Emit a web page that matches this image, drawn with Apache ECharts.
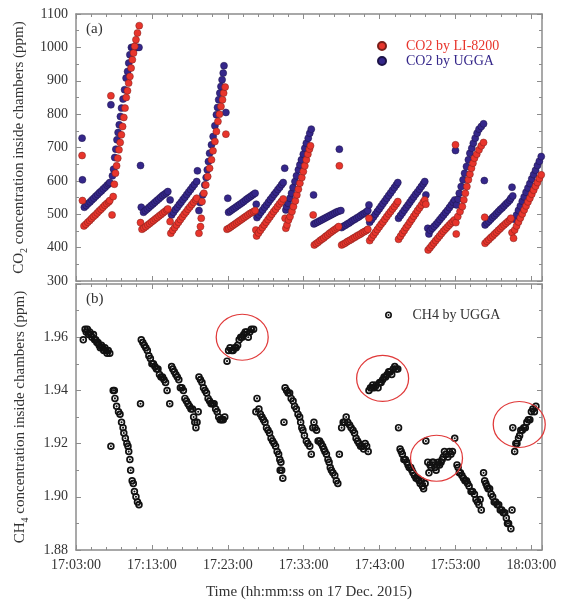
<!DOCTYPE html>
<html><head><meta charset="utf-8">
<script src="https://cdn.jsdelivr.net/npm/echarts@6/dist/echarts.min.js"></script>
<style>html,body{margin:0;padding:0;background:#fff}#c{width:564px;height:601px}</style>
</head><body><div id="c"></div>
<script>
// time in minutes after 17:03:00
const xTickLabels = ['17:03:00','17:13:00','17:23:00','17:33:00','17:43:00','17:53:00','18:03:00'];

const co2Licor = [
[0.8,676],[0.85,541],
[1.05,465],[1.3,470],[1.55,476],[1.8,481],[2.05,487],[2.3,493],[2.55,498],[2.8,504],[3.05,510],[3.3,515],[3.55,521],[3.8,527],[4.05,532],[4.3,537],[4.45,541],
[4.6,855],[4.75,498],
[4.9,553],[5.05,590],[5.2,623],[5.35,645],[5.5,668],[5.66,693],[5.82,715],[5.98,738],[6.14,763],[6.3,790],[6.46,818],[6.62,850],[6.78,870],[6.94,893],[7.1,913],[7.26,938],[7.42,963],[7.58,983],[7.74,1003],[7.9,1023],[8.1,1043],[8.33,1065],
[8.5,475],
[8.7,455],[8.95,459],[9.2,463],[9.45,468],[9.7,472],[9.95,477],[10.2,481],[10.45,486],[10.7,490],[10.95,495],[11.2,499],[11.45,504],[11.7,508],[11.95,513],[12.1,516],
[12.4,478],
[12.5,443],[12.75,452],[13.0,460],[13.25,468],[13.5,476],[13.75,484],[14.0,492],[14.25,500],[14.5,507],[14.75,515],[15.0,522],[15.25,529],[15.5,536],[15.75,543],[15.9,548],
[16.2,443],[16.4,463],[16.5,488],
[16.6,538],[16.85,563],[17.1,588],[17.35,613],[17.6,638],[17.85,663],[18.05,690],[18.3,718],[18.5,748],[18.7,778],[18.9,800],[19.1,823],[19.3,843],[19.45,863],[19.65,881],
[19.75,740],
[19.9,455],[20.15,458],[20.4,462],[20.65,466],[20.9,470],[21.15,474],[21.4,478],[21.65,482],[21.9,486],[22.15,490],[22.4,494],[22.65,498],[22.9,502],[23.15,505],[23.4,508],[23.6,511],
[23.7,453],
[23.8,435],[24.05,444],[24.3,452],[24.55,460],[24.8,468],[25.05,476],[25.3,484],[25.55,492],[25.8,500],[26.05,508],[26.3,515],[26.55,523],[26.8,531],[27.05,538],[27.3,546],
[27.55,488],[27.65,458],
[27.8,468],[28.0,483],[28.2,493],[28.45,508],[28.65,523],[28.9,540],[29.1,558],[29.3,575],[29.5,593],[29.75,610],[29.95,628],[30.15,645],[30.35,663],[30.55,680],[30.75,695],[30.9,705],
[31.25,498],
[31.4,408],[31.65,412],[31.9,416],[32.15,421],[32.4,425],[32.65,429],[32.9,434],[33.15,438],[33.4,443],[33.65,447],[33.9,451],[34.15,455],[34.4,459],[34.6,463],
[34.7,645],
[35.0,408],[35.25,411],[35.5,414],[35.75,418],[36.0,421],[36.25,424],[36.5,428],[36.75,431],[37.0,435],[37.25,438],[37.5,441],[37.75,445],[38.0,448],[38.25,451],[38.45,455],
[38.6,488],
[38.7,421],[38.95,430],[39.2,438],[39.45,446],[39.7,454],[39.95,462],[40.2,470],[40.45,477],[40.7,485],[40.95,493],[41.2,501],[41.45,508],[41.7,516],[41.95,523],[42.2,531],[42.4,538],
[42.5,425],[42.75,434],[43.0,443],[43.25,451],[43.5,460],[43.75,468],[44.0,477],[44.25,485],[44.5,494],[44.75,502],[45.0,511],[45.25,519],[45.5,527],[45.75,536],[45.95,543],
[46.1,530],
[46.4,393],[46.65,400],[46.9,407],[47.15,414],[47.4,421],[47.65,428],[47.9,435],[48.15,442],[48.4,449],[48.65,455],[48.9,461],[49.15,467],[49.4,473],[49.65,478],[49.85,483],
[50.0,708],[50.05,475],[50.1,441],
[50.3,493],[50.6,508],[50.9,523],[51.1,543],[51.3,563],[51.5,583],[51.7,603],[51.9,620],[52.1,638],[52.3,653],[52.5,668],[52.8,680],[53.1,693],[53.4,705],[53.7,715],
[53.85,491],
[53.9,413],[54.15,419],[54.4,424],[54.65,430],[54.9,435],[55.15,441],[55.4,446],[55.65,452],[55.9,457],[56.15,463],[56.4,468],[56.65,473],[56.9,478],[57.15,483],[57.3,488],
[57.45,445],[57.65,428],
[57.8,453],[58.05,465],[58.3,477],[58.55,489],[58.8,501],[59.05,513],[59.3,525],[59.55,537],[59.8,548],[60.05,560],[60.3,572],[60.55,584],[60.8,595],[61.05,607],[61.3,618]
];

const co2Ugga = [
[0.8,728],[0.85,603],
[1.1,521],[1.35,526],[1.6,532],[1.85,537],[2.1,543],[2.35,548],[2.6,554],[2.85,559],[3.1,565],[3.35,570],[3.6,576],[3.85,581],[4.1,587],[4.3,591],[4.45,595],
[4.6,828],
[4.8,615],[4.95,635],[5.1,670],[5.25,695],[5.4,723],[5.55,745],[5.7,768],[5.85,793],[6.0,818],[6.2,845],[6.4,873],[6.6,908],[6.8,928],[6.95,953],[7.1,978],[7.3,1000],[7.5,1000],[7.7,1000],[7.9,1000],[8.1,1000],[8.3,1000],
[8.5,646],[8.6,521],
[8.9,506],[9.15,511],[9.4,516],[9.65,521],[9.9,526],[10.15,531],[10.4,536],[10.65,541],[10.9,546],[11.15,551],[11.4,556],[11.65,560],[11.9,564],[12.1,568],
[12.4,543],
[12.6,498],[12.85,506],[13.1,514],[13.35,521],[13.6,529],[13.85,536],[14.1,544],[14.35,551],[14.6,559],[14.85,567],[15.1,574],[15.35,582],[15.6,589],[15.9,598],
[16.0,630],[16.2,511],[16.35,535],
[16.7,558],[16.97,588],[17.15,610],[17.3,633],[17.45,658],[17.6,683],[17.85,708],[18.07,733],[18.3,765],[18.5,798],[18.65,820],[18.8,843],[18.95,863],[19.1,883],[19.25,903],[19.4,923],[19.5,945],
[19.75,805],[20.0,548],
[20.1,506],[20.35,510],[20.6,514],[20.85,518],[21.1,522],[21.35,526],[21.6,530],[21.85,534],[22.1,538],[22.35,543],[22.6,547],[22.85,551],[23.1,555],[23.35,559],[23.6,563],
[23.75,530],
[23.85,490],[24.1,498],[24.35,506],[24.6,513],[24.85,521],[25.1,528],[25.35,536],[25.6,544],[25.85,551],[26.1,559],[26.35,566],[26.6,574],[26.85,581],[27.1,589],[27.3,595],
[27.5,638],[27.65,513],
[27.75,523],[27.95,533],[28.2,548],[28.4,563],[28.6,580],[28.85,598],[29.05,615],[29.3,633],[29.5,648],[29.7,663],[29.95,680],[30.15,698],[30.35,713],[30.6,728],[30.8,743],[31.0,755],
[31.3,558],
[31.35,471],[31.6,474],[31.85,477],[32.1,480],[32.35,483],[32.6,486],[32.85,489],[33.1,492],[33.35,495],[33.6,498],[33.85,501],[34.1,504],[34.35,507],[34.6,509],[34.9,511],
[34.7,695],
[35.0,460],[35.25,464],[35.5,467],[35.75,471],[36.0,474],[36.25,478],[36.5,482],[36.75,485],[37.0,489],[37.25,492],[37.5,496],[37.75,500],[38.0,503],[38.25,507],[38.45,511],
[38.6,528],
[38.7,476],[38.95,484],[39.2,492],[39.45,500],[39.7,508],[39.95,516],[40.2,524],[40.45,532],[40.7,540],[40.95,548],[41.2,556],[41.45,564],[41.7,572],[41.95,580],[42.2,588],[42.4,595],
[42.5,488],[42.75,496],[43.0,504],[43.25,512],[43.5,520],[43.75,528],[44.0,536],[44.25,544],[44.5,552],[44.75,560],[45.0,567],[45.25,575],[45.5,583],[45.75,591],[45.95,598],
[46.1,558],
[46.35,458],[46.5,441],[46.7,452],[46.95,458],[47.2,464],[47.45,470],[47.7,477],[47.95,484],[48.2,491],[48.45,498],[48.7,505],[48.95,512],[49.2,520],[49.45,528],[49.7,536],[49.9,543],
[50.0,691],
[50.15,528],[50.35,545],[50.5,563],[50.75,583],[51.0,603],[51.2,623],[51.45,643],[51.7,663],[51.9,683],[52.15,698],[52.35,713],[52.6,728],[52.85,743],[53.1,755],[53.4,763],[53.7,771],
[53.8,601],
[53.9,468],[54.15,474],[54.4,479],[54.65,485],[54.9,491],[55.15,496],[55.4,502],[55.65,508],[55.9,514],[56.15,519],[56.4,525],[56.65,531],[56.9,536],[57.15,542],[57.3,548],
[57.45,581],[57.55,555],
[57.8,485],[58.05,498],[58.3,512],[58.55,525],[58.8,539],[59.05,552],[59.3,566],[59.55,579],[59.8,592],[60.05,606],[60.3,619],[60.55,632],[60.8,646],[61.05,659],[61.3,673]
];

const ch4Ugga = [
[0.96,1.959],[1.2,1.963],[1.35,1.962],[1.5,1.963],[1.65,1.961],[1.8,1.962],[1.95,1.961],[2.1,1.960],[2.3,1.961],[2.45,1.959],[2.6,1.959],[2.75,1.958],[2.9,1.958],[3.05,1.957],[3.2,1.956],[3.35,1.957],[3.5,1.956],[3.65,1.955],[3.8,1.956],[3.95,1.955],[4.1,1.954],[4.25,1.955],[4.45,1.954],
[4.6,1.919],
[4.9,1.940],[5.05,1.940],[5.13,1.937],[5.35,1.934],[5.6,1.932],[5.8,1.931],[6.0,1.928],[6.2,1.926],[6.3,1.924],[6.5,1.922],[6.7,1.920],[6.85,1.919],[6.95,1.917],[7.1,1.914],[7.2,1.910],[7.4,1.906],[7.55,1.905],[7.7,1.902],[7.9,1.900],[8.1,1.898],[8.3,1.897],
[8.5,1.935],
[8.6,1.959],[8.8,1.958],[9.0,1.957],[9.2,1.956],[9.4,1.955],[9.6,1.953],[9.8,1.952],[10.0,1.950],[10.2,1.950],[10.4,1.949],[10.6,1.948],[10.8,1.948],[11.0,1.946],[11.2,1.945],[11.4,1.945],[11.6,1.944],[11.8,1.943],[12.0,1.940],
[12.35,1.935],
[12.6,1.949],[12.75,1.948],[12.95,1.947],[13.15,1.946],[13.35,1.945],[13.55,1.944],[13.75,1.941],[13.95,1.941],[14.15,1.940],[14.35,1.937],[14.55,1.936],[14.75,1.935],[14.95,1.934],[15.15,1.933],[15.35,1.933],[15.5,1.930],[15.65,1.928],[15.8,1.926],[15.95,1.928],[16.1,1.932],
[16.2,1.945],[16.4,1.944],[16.6,1.943],[16.8,1.941],[17.0,1.940],[17.2,1.939],[17.4,1.937],[17.6,1.936],[17.8,1.935],[18.0,1.935],[18.2,1.935],[18.4,1.933],[18.6,1.932],[18.8,1.930],[19.0,1.929],[19.2,1.929],[19.4,1.929],[19.6,1.930],
[19.9,1.951],[20.1,1.955],[20.3,1.956],[20.5,1.955],[20.7,1.955],[20.9,1.956],[21.1,1.956],[21.3,1.957],[21.5,1.959],[21.7,1.960],[21.9,1.960],[22.1,1.961],[22.3,1.962],[22.5,1.962],[22.7,1.960],[22.9,1.962],[23.1,1.963],[23.4,1.963],
[23.7,1.932],[23.85,1.937],[24.1,1.933],[24.3,1.931],[24.5,1.930],[24.7,1.929],[24.9,1.928],[25.1,1.926],[25.3,1.925],[25.5,1.924],[25.7,1.922],[25.9,1.921],[26.1,1.920],[26.3,1.919],[26.5,1.917],[26.7,1.916],[26.85,1.914],[27.0,1.913],[26.9,1.910],[27.1,1.910],[27.25,1.907],
[27.4,1.928],
[27.55,1.941],[27.75,1.940],[27.95,1.939],[28.15,1.939],[28.35,1.937],[28.6,1.936],[28.8,1.934],[29.03,1.933],[29.25,1.931],[29.47,1.930],[29.6,1.928],[29.75,1.926],[29.9,1.925],[30.1,1.923],[30.35,1.921],[30.55,1.920],[30.8,1.919],[31.0,1.916],
[31.2,1.926],[31.35,1.928],[31.5,1.926],[31.7,1.925],[31.9,1.921],[32.1,1.921],[32.3,1.920],[32.5,1.919],[32.65,1.918],[32.8,1.917],[33.0,1.916],[33.2,1.914],[33.35,1.913],[33.5,1.911],[33.65,1.910],[33.85,1.909],[34.1,1.908],[34.3,1.906],[34.5,1.905],
[34.7,1.916],
[35.0,1.926],[35.2,1.928],[35.4,1.928],[35.6,1.930],[35.8,1.928],[36.05,1.927],[36.25,1.926],[36.5,1.925],[36.7,1.924],[36.9,1.922],[37.1,1.921],[37.3,1.920],[37.5,1.919],[37.7,1.919],[37.9,1.918],[38.1,1.920],[38.3,1.919],[38.5,1.917],
[38.6,1.940],[38.8,1.941],[39.0,1.941],[39.1,1.942],[39.3,1.941],[39.55,1.942],[39.8,1.941],[40.0,1.943],[40.2,1.943],[40.4,1.944],[40.6,1.945],[40.8,1.945],[41.0,1.946],[41.2,1.947],[41.4,1.947],[41.6,1.946],[41.8,1.948],[42.0,1.949],[42.2,1.948],[42.4,1.948],
[42.5,1.926],
[42.7,1.918],[42.85,1.917],[43.0,1.916],[43.2,1.914],[43.4,1.914],[43.6,1.913],[43.75,1.912],[43.9,1.911],[44.1,1.911],[44.25,1.910],[44.4,1.909],[44.6,1.908],[44.8,1.907],[45.0,1.907],[45.2,1.906],[45.35,1.905],[45.5,1.906],[45.65,1.904],[45.8,1.903],[46.0,1.905],
[46.1,1.921],[46.35,1.913],[46.5,1.909],[46.65,1.912],[46.8,1.911],[46.95,1.913],[47.1,1.913],[47.3,1.911],[47.45,1.910],[47.6,1.912],[47.75,1.913],[47.9,1.912],[48.1,1.913],[48.25,1.914],[48.4,1.915],[48.55,1.917],[48.75,1.916],[49.0,1.915],[49.2,1.917],[49.4,1.916],[49.6,1.917],[49.9,1.922],
[50.2,1.912],[50.35,1.911],[50.5,1.909],[50.65,1.909],[50.85,1.908],[51.05,1.907],[51.25,1.906],[51.45,1.906],[51.6,1.905],[51.8,1.904],[52.05,1.902],[52.25,1.902],[52.5,1.901],[52.7,1.899],[52.9,1.898],[53.1,1.897],[53.25,1.899],[53.4,1.895],
[53.7,1.909],[53.85,1.906],[54.0,1.905],[54.15,1.904],[54.3,1.903],[54.5,1.903],[54.7,1.901],[54.9,1.900],[55.1,1.898],[55.3,1.898],[55.5,1.897],[55.7,1.897],[55.9,1.895],[56.1,1.895],[56.3,1.894],[56.5,1.894],[56.7,1.892],[56.85,1.890],[57.0,1.890],[57.3,1.888],
[57.45,1.895],
[57.55,1.926],[57.8,1.917],[57.95,1.920],[58.1,1.920],[58.3,1.922],[58.45,1.923],[58.6,1.925],[58.8,1.925],[59.0,1.926],[59.2,1.926],[59.4,1.928],[59.6,1.929],[59.8,1.929],[60.0,1.932],[60.2,1.933],[60.4,1.932],[60.6,1.934]
];

// centres of the red highlight ellipses in panel (b)
const ch4Highlights = [[21.9,1.960],[40.4,1.9445],[47.5,1.9145],[58.4,1.9272]];

const FONT = 'Liberation Serif';
const AX = '#8c8c8c';
const TXT = '#333';
const ringPath = 'path://M0,-10A10,10,0,1,1,0,10A10,10,0,1,1,0,-10ZM0,-5.4A5.4,5.4,0,1,0,0,5.4A5.4,5.4,0,1,0,0,-5.4ZM0,-2.8A2.8,2.8,0,1,1,0,2.8A2.8,2.8,0,1,1,0,-2.8Z';

function xFmt(v){
  const i = Math.round(v/10);
  return (Math.abs(v - i*10) < 1e-6 && xTickLabels[i]) ? xTickLabels[i] : '';
}
function xAxisDef(grid, pos, labels){
  return {
    type:'value', gridIndex:grid, position:pos, min:0, max:61.4, interval:10,
    axisLine:{show:true, onZero:false, lineStyle:{color:AX, width:1.5}},
    axisTick:{show:true, inside:true, length:5, lineStyle:{color:AX}},
    minorTick:{show:true, splitNumber:5, length:3, lineStyle:{color:AX}},
    splitLine:{show:false},
    axisLabel:{show:labels, formatter:xFmt, showMaxLabel:false, fontFamily:FONT, fontSize:14, color:TXT, margin:8},
    name: labels ? 'Time (hh:mm:ss on 17 Dec. 2015)' : '',
    nameLocation:'middle', nameGap:35,
    nameTextStyle:{fontFamily:FONT, fontSize:15, color:TXT}
  };
}
function yAxisDef(grid, pos, labels, min, max, interval, fmt, showMax, name){
  return {
    type:'value', gridIndex:grid, position:pos, min:min, max:max, interval:interval,
    axisLine:{show:true, onZero:false, lineStyle:{color:AX, width:1.5}},
    axisTick:{show:true, inside:true, length:5, lineStyle:{color:AX}},
    minorTick:{show:true, splitNumber:2, length:3, lineStyle:{color:AX}},
    splitLine:{show:false},
    axisLabel:{show:labels, formatter:fmt, showMaxLabel:showMax, showMinLabel:true, fontFamily:FONT, fontSize:14, color:TXT, margin:8},
    name: labels ? name : '',
    nameLocation:'middle', nameGap:46, nameRotate:90,
    nameTextStyle:{
      rich:{
        t:{fontFamily:FONT, fontSize:15, color:TXT, lineHeight:20},
        s:{fontFamily:FONT, fontSize:10, color:TXT, lineHeight:10, verticalAlign:'bottom'}
      }
    }
  };
}

const chart = echarts.init(document.getElementById('c'), null, {renderer:'canvas'});
chart.setOption({
  animation:false,
  backgroundColor:'#fff',
  grid:[
    {left:76, top:14, width:466, height:267},
    {left:76, top:284, width:466, height:267}
  ],
  xAxis:[
    xAxisDef(0,'bottom',false), xAxisDef(0,'top',false),
    xAxisDef(1,'bottom',true), xAxisDef(1,'top',false)
  ],
  yAxis:[
    yAxisDef(0,'left',true,300,1100,100,v=>String(v),true,'{t|CO}{s|2}{t| concentration inside chambers (ppm)}'),
    yAxisDef(0,'right',false,300,1100,100,v=>String(v),true,''),
    yAxisDef(1,'left',true,1.88,1.98,0.02,v=>v.toFixed(2),false,'{t|CH}{s|4}{t| concentration inside chambers (ppm)}'),
    yAxisDef(1,'right',false,1.88,1.98,0.02,v=>v.toFixed(2),false,'')
  ],
  legend:[
    {orient:'vertical', left:372, top:34, itemWidth:38, itemHeight:8, itemGap:1, selectedMode:false,
     textStyle:{fontFamily:FONT, fontSize:14},
     data:[{name:'CO2 by LI-8200', textStyle:{color:'#e8352c'}},{name:'CO2 by UGGA', textStyle:{color:'#35278a'}}]},
    {orient:'vertical', left:380, top:303, itemWidth:38, itemHeight:7, selectedMode:false,
     textStyle:{fontFamily:FONT, fontSize:14, color:TXT},
     data:[{name:'CH4 by UGGA'}]}
  ],
  graphic:[
    {type:'text', left:86, top:22, style:{text:'(a)', font:'15px "Liberation Serif"', fill:TXT}},
    {type:'text', left:86, top:292, style:{text:'(b)', font:'15px "Liberation Serif"', fill:TXT}}
  ],
  series:[
    {name:'CO2 by UGGA', type:'scatter', xAxisIndex:0, yAxisIndex:0, data:co2Ugga, symbol:'circle', symbolSize:7, z:2,
     itemStyle:{color:'#35278a', borderColor:'#1c1348', borderWidth:0.5, opacity:1}},
    {name:'CO2 by LI-8200', type:'scatter', xAxisIndex:0, yAxisIndex:0, data:co2Licor, symbol:'circle', symbolSize:7, z:3,
     itemStyle:{color:'#e8352c', borderColor:'#7a1f1a', borderWidth:0.5, opacity:1}},
    {name:'CH4 by UGGA', type:'scatter', xAxisIndex:2, yAxisIndex:2, data:ch4Ugga, symbol:ringPath, symbolSize:7.5, z:3,
     itemStyle:{color:'#111', opacity:1}},
    {name:'highlight', type:'scatter', xAxisIndex:2, yAxisIndex:2, data:ch4Highlights, symbol:'circle', symbolSize:[52,46], z:4, silent:true,
     itemStyle:{color:'rgba(0,0,0,0)', borderColor:'#e03a3a', borderWidth:1.2, opacity:1}}
  ]
});
</script>
</body></html>
